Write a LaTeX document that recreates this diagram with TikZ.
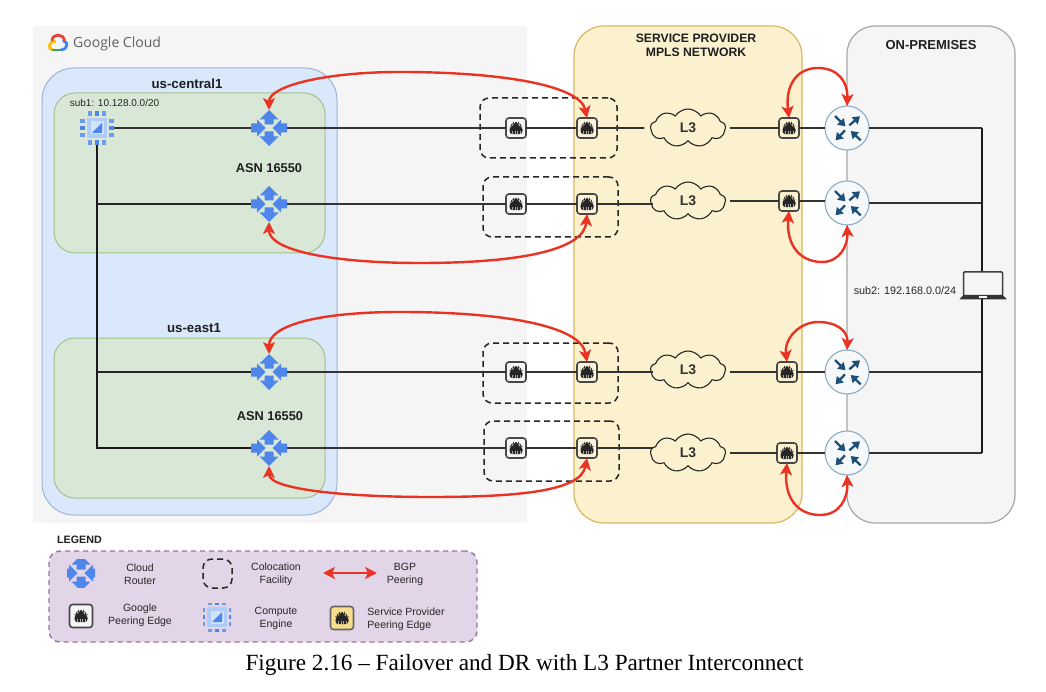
\documentclass[tikz,border=0pt]{standalone}
\usepackage{fontspec}
\setmainfont{Liberation Sans}
\newfontfamily\capfont{Liberation Serif}
\newfontfamily\gfont{Open Sans}
\usetikzlibrary{arrows.meta,shapes.symbols}
\definecolor{panelgrey}{HTML}{F5F5F5}
\definecolor{regblue}{HTML}{DAE8FC}
\definecolor{regblueline}{HTML}{9DB4D8}
\definecolor{greenfill}{HTML}{D9E7D6}
\definecolor{greenline}{HTML}{A3C18C}
\definecolor{yellowfill}{HTML}{FCF1CF}
\definecolor{yellowline}{HTML}{D6B95F}
\definecolor{premline}{HTML}{A6A6A6}
\definecolor{legfill}{HTML}{E1D5E7}
\definecolor{legline}{HTML}{9673A6}
\definecolor{gblue}{HTML}{4F86EC}
\definecolor{gpale}{HTML}{AECBFA}
\definecolor{gpaler}{HTML}{D2E3FC}
\definecolor{bgpred}{HTML}{EB3324}
\definecolor{wire}{HTML}{333333}
\definecolor{routerblue}{HTML}{1D5079}
\definecolor{routerline}{HTML}{8AAEC4}
\definecolor{routerfill}{HTML}{F6F8FA}
\definecolor{spyellow}{HTML}{F7DD8C}
\definecolor{logor}{HTML}{EA4335}
\definecolor{logob}{HTML}{4285F4}
\definecolor{logog}{HTML}{34A853}
\definecolor{logoy}{HTML}{FBBC05}
\tikzset{
  region/.style={draw,inner sep=0pt,outer sep=0pt},
  dashbox/.style={draw=black!85,dash pattern=on 6pt off 4pt,line width=1.5pt,rounded corners=9pt,inner sep=0pt},
  wireline/.style={draw=wire,line width=1.6pt},
  bgp/.style={draw=bgpred,line width=2.4pt,{Stealth[length=12pt,width=12pt,inset=3pt]}-{Stealth[length=12pt,width=12pt,inset=3pt]}},
  peer/.style={draw=black!72,line width=1.6pt,rounded corners=3pt,minimum size=#1,inner sep=0pt,outer sep=0pt,
    path picture={\begin{scope}[shift={(path picture bounding box.center)},scale=#1/20]
      \fill[black!85] (-6.5,6.2)--(6.5,6.2)--(6.5,-1.5)--(4,-1.5)--(4,-3.6)--(2.2,-3.6)--(2.2,-6)--(-2.2,-6)--(-2.2,-3.6)--(-4,-3.6)--(-4,-1.5)--(-6.5,-1.5)--cycle;
      \foreach \tx in {-3.9,-1.3,1.3,3.9}{\draw[black!35,line width=0.4pt] (\tx,3.4)--(\tx,6.2);}
    \end{scope}}},
  crouter/.style={minimum size=#1,inner sep=0pt,outer sep=0pt,
    path picture={\begin{scope}[shift={(path picture bounding box.center)},scale=#1/36]
      \fill[gblue] (0,-18)--(9.5,-8.5)--(4.5,-8.5)--(4.5,-3.5)--(-4.5,-3.5)--(-4.5,-8.5)--(-9.5,-8.5)--cycle;
      \fill[gblue] (0,18)--(9.5,8.5)--(4.5,8.5)--(4.5,3.5)--(-4.5,3.5)--(-4.5,8.5)--(-9.5,8.5)--cycle;
      \fill[gblue] (-18,-4.5)--(-12,-4.5)--(-12,-8.5)--(-3.5,0)--(-12,8.5)--(-12,4.5)--(-18,4.5)--cycle;
      \fill[gblue] (18,-4.5)--(12,-4.5)--(12,-8.5)--(3.5,0)--(12,8.5)--(12,4.5)--(18,4.5)--cycle;
    \end{scope}}},
  compute/.style={minimum size=#1,inner sep=0pt,outer sep=0pt,
    path picture={\begin{scope}[shift={(path picture bounding box.center)},scale=#1/34]
      \fill[gpale] (-10,-10) rectangle (10,10);
      \fill[gpaler] (-6.5,-6.5) rectangle (6.5,6.5);
      \fill[gblue] (5,-5)--(5,5)--(-5,5)--cycle;
      \foreach \pp/\pc in {-7/gblue!70!gpale,0/gblue,7/gblue!70!gpale}{
        \fill[\pc] (\pp-1.6,-17) rectangle (\pp+1.6,-12);
        \fill[\pc] (\pp-1.6,12) rectangle (\pp+1.6,17);
        \fill[\pc] (-17,\pp-1.6) rectangle (-12,\pp+1.6);
        \fill[\pc] (12,\pp-1.6) rectangle (17,\pp+1.6);}
    \end{scope}}},
  prouter/.style={circle,draw=routerline,line width=1.1pt,fill=routerfill,minimum size=44pt,inner sep=0pt,outer sep=0pt,
    path picture={\begin{scope}[shift={(path picture bounding box.center)}]
      \tikzset{rarr/.style={draw=routerblue,line width=2.3pt,-{Triangle[length=7pt,width=9pt]}}}
      \draw[rarr] (-12,-12)--(-1.5,-1.7);
      \draw[rarr] (2.3,-2.7)--(13,-11.7);
      \draw[rarr] (-2,2.3)--(-11.5,12.3);
      \draw[rarr] (13.7,12.3)--(3.7,3);
    \end{scope}}},
  lthree/.style={cloud,cloud puffs=9,cloud puff arc=115,aspect=2.1,draw=black!85,line width=1.1pt,fill=yellowfill,minimum width=75pt,minimum height=38pt,inner sep=0pt,outer sep=0pt,font=\bfseries\fontsize{14}{16}\selectfont,text=black!80},
  title/.style={font=\bfseries\fontsize{#1}{14}\selectfont,text=black!88,align=center,inner sep=0pt},
  small/.style={font=\fontsize{#1}{13}\selectfont,text=black!85,align=center,inner sep=0pt},
}
\begin{document}
\begin{tikzpicture}[x=1pt,y=-1pt]
\useasboundingbox[fill=white] (0,0) rectangle (1046,692);
% regions
\node[region,fill=panelgrey,draw=none,minimum width=494pt,minimum height=497pt] (gcp) at (280,274.5) {};
\node[region,fill=regblue,draw=regblueline,line width=1pt,rounded corners=32pt,minimum width=295pt,minimum height=447pt] (blue) at (189.5,291.5) {};
\node[region,fill=greenfill,draw=greenline,line width=1pt,rounded corners=21pt,minimum width=271pt,minimum height=160pt] (green1) at (189.5,173) {};
\node[region,fill=greenfill,draw=greenline,line width=1pt,rounded corners=21pt,minimum width=271pt,minimum height=160pt] (green2) at (189.5,418) {};
\node[region,fill=yellowfill,draw=yellowline,line width=1.2pt,rounded corners=30pt,minimum width=228pt,minimum height=497pt] (mpls) at (688,274.5) {};
\node[region,fill=panelgrey,draw=premline,line width=1.2pt,rounded corners=28pt,minimum width=168pt,minimum height=497pt] (prem) at (931,274.5) {};
% logo
\draw[line width=2.8pt,color=logoy,line cap=round] (55,41.5) .. controls (48.5,41) and (47.5,50) .. (53,50);
\draw[line width=2.8pt,color=logog,line cap=round] (53,50) -- (61,50);
\draw[line width=2.8pt,color=logob,line cap=round] (61,50) .. controls (67.5,50) and (69,41.5) .. (63.5,41);
\draw[line width=2.8pt,color=logor,line cap=round] (52,40) .. controls (53.5,33.5) and (62.5,33.5) .. (64.5,40);
\node[font=\gfont\fontsize{14}{16}\selectfont,text=black!62,anchor=west,inner sep=0pt] (gcptext) at (73,43.5) {Google Cloud};
% titles
\node[title=13.3] (tc) at (187,84) {us-central1};
\node[title=13.3] (te) at (194,328) {us-east1};
\node[title=12.8] (a1) at (269,168) {ASN 16550};
\node[title=12.8] (a2) at (270,416) {ASN 16550};
\node[small=10] (sub1) at (114.5,103) {sub1: 10.128.0.0/20};
\node[title=12.2] (sp) at (696,45.5) {SERVICE PROVIDER\\MPLS NETWORK};
\node[title=13] (op) at (931,45) {ON-PREMISES};
\node[small=10.8] (sub2) at (905,291) {sub2: 192.168.0.0/24};
% colocation boxes
\node[dashbox,minimum width=137pt,minimum height=60pt] (co1) at (548.5,128) {};
\node[dashbox,minimum width=135pt,minimum height=60pt] (co2) at (550.5,207) {};
\node[dashbox,minimum width=135pt,minimum height=60pt] (co3) at (550.5,373) {};
\node[dashbox,minimum width=135pt,minimum height=60pt] (co4) at (551.5,451) {};
% elements
\node[compute=34pt] (ce) at (97,128) {};
\coordinate (j2) at (97,204);
\coordinate (j3) at (97,372);
\coordinate (j4) at (97,448);
\node[crouter=36pt] (r1) at (269,128) {};
\node[crouter=36pt] (r2) at (269,204) {};
\node[crouter=36pt] (r3) at (269,372) {};
\node[crouter=36pt] (r4) at (269,448) {};
\foreach \nm/\yy in {1/128,2/204,3/372,4/448}{
  \node[peer=20pt,fill=panelgrey] (g\nm) at (516,\yy) {};}
\node[peer=20pt,fill=yellowfill!70!panelgrey] (s1) at (587,128) {};
\node[peer=20pt,fill=yellowfill!70!panelgrey] (s2) at (587,204) {};
\node[peer=20pt,fill=yellowfill!70!panelgrey] (s3) at (587,372) {};
\node[peer=20pt,fill=yellowfill!70!panelgrey] (s4) at (587,448) {};
\node[lthree] (c1) at (688,128) {L3};
\node[lthree] (c2) at (688,201) {L3};
\node[lthree] (c3) at (688,370) {L3};
\node[lthree] (c4) at (688,453) {L3};
\node[peer=20pt,fill=yellowfill] (t1) at (789,128) {};
\node[peer=20pt,fill=yellowfill] (t2) at (789,201) {};
\node[peer=20pt,fill=yellowfill] (t3) at (787,372) {};
\node[peer=20pt,fill=yellowfill] (t4) at (787,453) {};
\node[prouter] (o1) at (847,128) {};
\node[prouter] (o2) at (847,203) {};
\node[prouter] (o3) at (847,372) {};
\node[prouter] (o4) at (847,453) {};
\coordinate (b1) at (982,128);
\coordinate (b2) at (982,203);
\coordinate (b3) at (982,372);
\coordinate (b4) at (982,453);
% wires
\draw[wireline,draw=black!90] (ce.south) -- (j4) -- (r4.west);
\draw[wireline,draw=black!85] (j2) -- (r2.west);
\draw[wireline,draw=black!85] (j3) -- (r3.west);
\draw[wireline] (ce.east) -- (r1.west);
\foreach \nm in {1,2,3,4}{
  \draw[wireline] (r\nm.east) -- (g\nm.west);
  \draw[wireline] (g\nm.east) -- (s\nm.west);
  \draw[wireline] (t\nm.east) -- (t\nm.east -| o\nm.west);
  \draw[wireline] (o\nm.east) -- (b\nm);}
\draw[wireline] (s1.east) -- ([xshift=-6pt]c1.west);
\draw[wireline] (s2.east) -- ([xshift=3pt]s2.east -| c2.west);
\draw[wireline] (s3.east) -- ([xshift=3pt]s3.east -| c3.west);
\draw[wireline] (s4.east) -- ([xshift=3pt]s4.east -| c4.west);
\foreach \nm in {1,2,3,4}{
  \draw[wireline] ([xshift=4pt]t\nm.west -| c\nm.east) -- (t\nm.west);}
\draw[wireline,draw=black!90] (b1) -- (b4);
% laptop
\node[draw=black!75,fill=panelgrey,line width=1.5pt,rounded corners=1pt,minimum width=39pt,minimum height=24pt,inner sep=0pt] (lap) at (983,284) {};
\fill[black!80,rounded corners=0.6pt] (959,299.5) -- (963.5,295) -- (1002.5,295) -- (1007,299.5) -- cycle;
\fill[white] (979,296.3) rectangle (987,297.8);
% bgp arcs
\draw[bgp] (r1.north) .. controls (269,86) and (325,72) .. (400,72) .. controls (500,72) and (580,85) .. (s1.north);
\draw[bgp] (r2.south) .. controls (269,250) and (330,263) .. (420,263) .. controls (520,263) and (584,250) .. (s2.south);
\draw[bgp] (r3.north) .. controls (269,325) and (320,312) .. (400,312) .. controls (500,312) and (581,325) .. (s3.north);
\draw[bgp] (r4.south) .. controls (269,490) and (350,497) .. (430,497) .. controls (520,497) and (581,491) .. (s4.south);
\draw[bgp] (t1.north) .. controls (785,85) and (797,68) .. (818,68) .. controls (838,68) and (848,82) .. (o1.north);
\draw[bgp] (t2.south) .. controls (786,245) and (800,262) .. (822,262) .. controls (840,262) and (848,245) .. (o2.south);
\draw[bgp] (t3.north) .. controls (784,338) and (800,322) .. (818,322) .. controls (838,322) and (848,332) .. (o3.north);
\draw[bgp] (t4.south) .. controls (784,498) and (798,515) .. (820,515) .. controls (840,515) and (848,498) .. (o4.south);
% legend
\node[title=10.7] (lg) at (79.5,540) {LEGEND};
\node[region,fill=legfill,draw=legline,line width=1.4pt,dash pattern=on 5pt off 4pt,rounded corners=11pt,minimum width=428pt,minimum height=91pt] (leg) at (263,596.5) {};
\node[crouter=28pt] (l1) at (81,573) {};
\node[small=10.5] (l1t) at (140,574) {Cloud\\Router};
\node[dashbox,minimum width=29pt,minimum height=29pt] (l2) at (217.5,573.5) {};
\node[small=10.5] (l2t) at (276,574) {Colocation\\Facility};
\coordinate (l3a) at (323,573);
\coordinate (l3b) at (377,573);
\draw[bgp] (l3a) -- (l3b);
\node[small=10.5] (l3t) at (405,574) {BGP\\Peering};
\node[peer=23pt,fill=panelgrey] (l4) at (81,616) {};
\node[small=10.5] (l4t) at (140,615) {Google\\Peering Edge};
\node[compute=28pt] (l5) at (217,617) {};
\node[small=10.5] (l5t) at (276,618) {Compute\\Engine};
\node[peer=23pt,fill=spyellow,draw=black!60] (l6) at (342,618) {};
\node[small=10.5,align=left] (l6t) at (406,619) {Service Provider\\Peering Edge};
% caption
\node[font=\capfont\fontsize{23.2}{26}\selectfont,text=black,inner sep=0pt] (cap) at (524.5,665) {Figure 2.16 – Failover and DR with L3 Partner Interconnect};
\end{tikzpicture}
\end{document}
